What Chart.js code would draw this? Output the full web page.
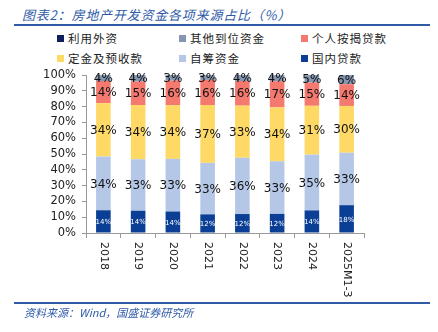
<!DOCTYPE html>
<html>
<head>
<meta charset="utf-8">
<script src="https://cdn.jsdelivr.net/npm/chart.js@4"></script>
<style>
  html, body { margin:0; padding:0; background:#fff; }
  #wrap { position:relative; width:438px; height:332px; overflow:hidden; font-family:"DejaVu Sans", sans-serif; }
  #chart { position:absolute; left:0; top:0; }
  .title { position:absolute; left:22px; top:5px; font:italic 13px "Noto Sans CJK SC", sans-serif; color:#2e5aa8; letter-spacing:0.8px; white-space:nowrap; }
  .rule { position:absolute; left:14px; width:416px; height:2px; background:#2e5aa8; }
  .legend { position:absolute; font:11.5px "Noto Sans CJK SC", sans-serif; color:#222; letter-spacing:1px; white-space:nowrap; }
  .legend i { position:absolute; left:-11px; top:5px; width:7px; height:7px; }
  .source { position:absolute; left:24px; top:304px; font:italic 11px "Noto Sans CJK SC", sans-serif; color:#2e5aa8; white-space:nowrap; }
</style>
</head>
<body>
<div id="wrap">
  <div class="title">图表2：房地产开发资金各项来源占比（%）</div>
  <div class="rule" style="top:24px;"></div>
  <div id="legend"></div>
  <canvas id="chart" width="438" height="332"></canvas>
  <div class="rule" style="top:302px;"></div>
  <div class="source">资料来源：Wind，国盛证券研究所</div>
</div>
<script>
// ── DATA ──────────────────────────────────────────────────────────────────────
const years    = ['2018','2019','2020','2021','2022','2023','2024','2025M1-3'];
const domLoan  = [14.4, 14.1, 13.6, 11.8, 12.0, 12.1, 14.3, 17.6];   // 国内贷款
const selfFund = [34.0, 32.6, 33.3, 32.6, 35.6, 33.3, 35.3, 33.2];   // 自筹资金
const deposits = [33.8, 34.3, 34.0, 36.6, 33.0, 34.1, 30.9, 29.6];   // 定金及预收款
const mortgage = [14.0, 14.9, 15.6, 15.9, 15.6, 16.6, 14.8, 13.8];   // 个人按揭贷款
const others   = [ 3.7,  4.0,  3.4,  3.0,  3.7,  3.8,  4.6,  5.7];   // 其他到位资金
const foreign  = [ 0.1,  0.1,  0.1,  0.1,  0.1,  0.1,  0.1,  0.1];   // 利用外资
const yTicks   = [0,10,20,30,40,50,60,70,80,90,100];

const series = [
  { label:'国内贷款',     data:domLoan,  color:'#0b3f95', tag:'small' },
  { label:'自筹资金',     data:selfFund, color:'#b4c7e7', tag:'big' },
  { label:'定金及预收款', data:deposits, color:'#ffd966', tag:'big' },
  { label:'个人按揭贷款', data:mortgage, color:'#f47a70', tag:'big' },
  { label:'其他到位资金', data:others,   color:'#8496b0', tag:'big' },
  { label:'利用外资',     data:foreign,  color:'#0d1f5c', tag:'none' },
];

// ── LEGEND (reverse order, 3 columns) ─────────────────────────────────────────
const legendPos = [[68,30],[190,30],[312,30],[68,50],[190,50],[312,50]];
document.getElementById('legend').innerHTML = [...series].reverse().map((s,i) => `
  <div class="legend" style="left:${legendPos[i][0]}px;top:${legendPos[i][1]}px;">
    <i style="background:${s.color};"></i>${s.label}</div>`).join('');

// ── PLUGINS ───────────────────────────────────────────────────────────────────
const barLabels = {
  id:'barLabels',
  afterDatasetsDraw(chart) {
    const ctx = chart.ctx;
    ctx.save();
    ctx.textAlign = 'center';
    ctx.textBaseline = 'middle';
    chart.data.datasets.forEach((ds, di) => {
      if (ds.tag === 'none') return;
      chart.getDatasetMeta(di).data.forEach((bar, i) => {
        const y = (bar.y + bar.base) / 2;
        if (ds.tag === 'small') { ctx.font = '7px "DejaVu Sans"'; ctx.fillStyle = '#fff'; }
        else { ctx.font = '12px "DejaVu Sans"'; ctx.fillStyle = '#111'; }
        ctx.fillText(Math.round(ds.data[i]) + '%', bar.x, y + 1);
      });
    });
    ctx.restore();
  }
};

const xLabels = {
  id:'xLabels',
  afterDraw(chart) {
    const ctx = chart.ctx, xs = chart.scales.x;
    ctx.save();
    ctx.font = '11px "DejaVu Sans"';
    ctx.fillStyle = '#222';
    ctx.textAlign = 'left';
    ctx.textBaseline = 'middle';
    years.forEach((lbl, i) => {
      ctx.save();
      ctx.translate(xs.getPixelForTick(i), chart.chartArea.bottom + 9);
      ctx.rotate(Math.PI / 2);
      ctx.fillText(lbl, 0, 0);
      ctx.restore();
    });
    ctx.restore();
  }
};

// ── CHART ─────────────────────────────────────────────────────────────────────
new Chart(document.getElementById('chart'), {
  type:'bar',
  data:{
    labels:years,
    datasets:series.map(s => ({
      label:s.label, data:s.data, tag:s.tag,
      backgroundColor:s.color, borderWidth:0,
      categoryPercentage:1, barPercentage:0.42
    }))
  },
  options:{
    responsive:false, animation:false,
    layout:{ padding:{ top:75, right:74, bottom:89, left:0 } },
    plugins:{ legend:{ display:false }, tooltip:{ enabled:false } },
    scales:{
      x:{
        stacked:true,
        ticks:{ display:false },
        grid:{ drawOnChartArea:false, tickLength:5, color:'#999' },
        border:{ color:'#999' },
        afterFit:s => { s.height = 10; }
      },
      y:{
        stacked:true, min:0, max:100,
        afterBuildTicks:s => { s.ticks = yTicks.map(v => ({ value:v })); },
        ticks:{ autoSkip:false, callback:v => v + '%', font:{ family:'DejaVu Sans', size:11.5 }, color:'#222', padding:6 },
        grid:{ drawOnChartArea:false, tickLength:4, color:'#999' },
        border:{ color:'#999' },
        afterFit:s => { s.width = 86; }
      }
    }
  },
  plugins:[barLabels, xLabels]
});
</script>
</body>
</html>
